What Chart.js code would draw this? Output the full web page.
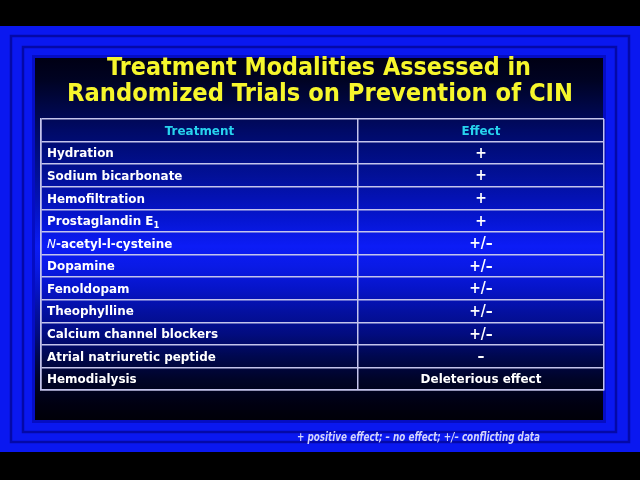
<!DOCTYPE html>
<html><head><meta charset="utf-8">
<script src="https://cdn.jsdelivr.net/npm/chart.js@4.4.1/dist/chart.umd.min.js"></script>
<style>html,body{margin:0;padding:0;background:#000;}canvas{display:block}</style>
</head><body>
<canvas id="c" width="640" height="480"></canvas>
<script>
// ---- data ----
const titleLines = ['Treatment Modalities Assessed in', 'Randomized Trials on Prevention of CIN'];
const columns = ['Treatment', 'Effect'];
const treatments = ['Hydration', 'Sodium bicarbonate', 'Hemofiltration', 'Prostaglandin E₁', 'N-acetyl-l-cysteine', 'Dopamine', 'Fenoldopam', 'Theophylline', 'Calcium channel blockers', 'Atrial natriuretic peptide', 'Hemodialysis'];
const effects = ['+', '+', '+', '+', '+/–', '+/–', '+/–', '+/–', '+/–', '–', 'Deleterious effect'];
const footnote = '+ positive effect; – no effect; +/– conflicting data';

const rows = [columns[0]].concat(treatments);

// ---- styles ----
const FONT = '"DejaVu Sans", Tahoma, sans-serif';
const CFONT = '"DejaVu Sans Condensed", "DejaVu Sans", sans-serif';
const LINE = '#c4c4ec';
const SUBS = '₀₁₂₃₄₅₆₇₈₉';

function segmentsOf(label) {
  const segs = [];
  let rest = label;
  const m = rest.match(/^([A-Z])-/);
  if (m) { segs.push({t: m[1], italic: true}); rest = rest.slice(1); }
  let buf = '';
  for (const ch of rest) {
    const si = SUBS.indexOf(ch);
    if (si >= 0) {
      if (buf) { segs.push({t: buf}); buf = ''; }
      segs.push({t: String(si), sub: true});
    } else buf += ch;
  }
  if (buf) segs.push({t: buf});
  return segs;
}
function segFont(s, size) {
  return (s.italic ? 'italic ' : 'bold ') + (s.sub ? Math.round(size * 0.7) : size) + 'px ' + FONT;
}
function drawRich(ctx, label, x, y, size, k, align, color) {
  const segs = segmentsOf(label);
  let total = 0;
  segs.forEach(s => { ctx.font = segFont(s, size); s.w = ctx.measureText(s.t).width; total += s.w; });
  ctx.save();
  ctx.translate(x, y);
  ctx.scale(k, 1);
  let cx = align === 'center' ? -total / 2 : 0;
  ctx.fillStyle = color;
  ctx.textAlign = 'left';
  ctx.textBaseline = 'alphabetic';
  segs.forEach(s => {
    ctx.font = segFont(s, size);
    ctx.fillText(s.t, cx, s.sub ? 3 : 0);
    cx += s.w;
  });
  ctx.restore();
}
function fitText(ctx, text, cx, y, width, font, color, align) {
  ctx.save();
  ctx.font = font;
  const w = ctx.measureText(text).width;
  const k = width / w;
  ctx.translate(cx, y);
  ctx.scale(k, 1);
  ctx.fillStyle = color;
  ctx.textAlign = align || 'center';
  ctx.textBaseline = 'alphabetic';
  ctx.fillText(text, 0, 0);
  ctx.restore();
}

const slidePlugin = {
  id: 'slide',
  beforeDraw(chart) {
    const ctx = chart.ctx;
    ctx.save();
    ctx.fillStyle = '#000';
    ctx.fillRect(0, 0, 640, 480);
    // blue frame
    ctx.fillStyle = '#0a18f0';
    ctx.fillRect(0, 26, 640, 426);
    ctx.strokeStyle = 'rgba(0,0,120,0.6)';
    ctx.lineWidth = 2.5;
    ctx.strokeRect(11, 36, 618, 406);
    ctx.strokeRect(23, 47, 593, 385);
    ctx.strokeStyle = 'rgba(0,0,140,0.45)';
    ctx.lineWidth = 3;
    ctx.strokeRect(33.5, 56.5, 571, 365);
    // content gradient
    const g = ctx.createLinearGradient(0, 58, 0, 420);
    g.addColorStop(0, '#000014');
    g.addColorStop(0.06, '#000322');
    g.addColorStop(0.2, '#000a66');
    g.addColorStop(0.262, '#000d80');
    g.addColorStop(0.326, '#021098');
    g.addColorStop(0.387, '#0412b4');
    g.addColorStop(0.45, '#0616d4');
    g.addColorStop(0.52, '#0c1cf6');
    g.addColorStop(0.575, '#0a1ae6');
    g.addColorStop(0.638, '#0614c8');
    g.addColorStop(0.70, '#0410a0');
    g.addColorStop(0.762, '#020c80');
    g.addColorStop(0.823, '#000850');
    g.addColorStop(0.887, '#000428');
    g.addColorStop(0.96, '#000010');
    g.addColorStop(1, '#000008');
    ctx.fillStyle = g;
    ctx.fillRect(35, 58, 568, 362);
    // title
    fitText(ctx, titleLines[0], 319, 75, 424, 'bold 25px ' + FONT, '#f6f62c');
    fitText(ctx, titleLines[1], 320, 101, 506, 'bold 25px ' + FONT, '#f6f62c');
    ctx.restore();
  },
  afterDraw(chart) {
    const ctx = chart.ctx;
    const xs = chart.scales.x, ys = chart.scales.y;
    const split = xs.ticks[1].value;
    const c0 = (xs.getPixelForValue(0) + xs.getPixelForValue(split)) / 2;
    const c1 = (xs.getPixelForValue(split) + xs.getPixelForValue(1)) / 2;
    const left = xs.getPixelForValue(0) + 6;
    const size = 13;
    ctx.save();
    ctx.font = 'bold ' + size + 'px ' + FONT;
    const k = 171 / ctx.measureText('Calcium channel blockers').width;
    ctx.restore();
    rows.forEach((lab, i) => {
      const y = ys.getPixelForValue(i) + 4.5;
      if (i === 0) {
        drawRich(ctx, columns[0], c0, y, size, k, 'center', '#27d3ee');
        drawRich(ctx, columns[1], c1, y, size, k, 'center', '#27d3ee');
      } else {
        drawRich(ctx, lab, left, y, size, k, 'left', '#ffffff');
        const eff = effects[i - 1];
        const short = eff.length <= 3;
        drawRich(ctx, eff, c1, y + (short ? 0.5 : 0), short ? 15 : size, k, 'center', '#ffffff');
      }
    });
    // footnote
    fitText(ctx, footnote, 540, 441, 243, 'italic bold 12px ' + CFONT, '#d4d4fa', 'right');
  }
};

new Chart(document.getElementById('c'), {
  type: 'bar',
  data: { labels: rows, datasets: [{ label: columns[1], data: rows.map(() => null) }] },
  options: {
    indexAxis: 'y',
    responsive: false,
    animation: false,
    devicePixelRatio: 1,
    layout: { padding: { left: 41, right: 36, top: 119, bottom: 90 } },
    plugins: { legend: { display: false }, tooltip: { enabled: false }, title: { display: false } },
    scales: {
      x: {
        type: 'linear', min: 0, max: 1,
        afterBuildTicks: s => { s.ticks = [{ value: 0 }, { value: 0.563 }, { value: 1 }]; },
        ticks: { display: false },
        grid: { color: LINE, lineWidth: 1.5, drawTicks: false },
        border: { display: true, color: LINE, width: 1.5 }
      },
      y: {
        type: 'category', offset: true,
        ticks: { display: false },
        grid: { offset: true, color: LINE, lineWidth: 1.5, drawTicks: false },
        border: { display: true, color: LINE, width: 1.5 }
      }
    }
  },
  plugins: [slidePlugin]
});
</script>
</body></html>
